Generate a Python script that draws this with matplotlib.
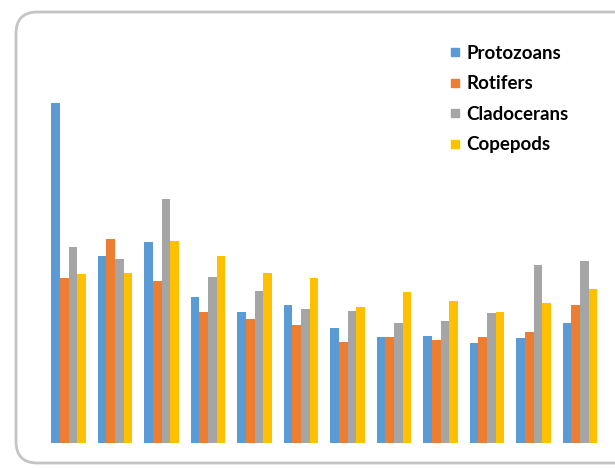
import numpy as np
import matplotlib.pyplot as plt
from matplotlib.patches import FancyBboxPatch
from matplotlib.lines import Line2D

# abundance per station (12 stations), four zooplankton groups
stations = np.arange(1, 13)
protozoans = [340, 187, 201, 146, 131, 138, 115, 106, 107, 100, 105, 120]
rotifers = [165, 204, 162, 131, 124, 118, 101, 106, 103, 106, 111, 138]
cladocerans = [196, 184, 244, 166, 152, 134, 132, 120, 122, 130, 178, 182]
copepods = [169, 170, 202, 187, 170, 165, 136, 151, 142, 131, 140, 154]

series = [("Protozoans", protozoans, "#5B9BD5"),
          ("Rotifers", rotifers, "#ED7D31"),
          ("Cladocerans", cladocerans, "#A5A5A5"),
          ("Copepods", copepods, "#FFC000")]

fig = plt.figure(figsize=(6.15, 4.68), dpi=100)

# rounded chart-area border
frame = FancyBboxPatch((16 / 615, 5 / 468), 620 / 615, 451 / 468,
                       boxstyle="round,pad=0,rounding_size=0.035",
                       transform=fig.transFigure, facecolor="white",
                       edgecolor="#c4c4c4", linewidth=2.0, zorder=0,
                       mutation_aspect=615 / 468)
fig.patches.append(frame)

ax = fig.add_axes([45.25 / 615, 25 / 468, 558 / 615, 360 / 468])
ax.set_zorder(2)
ax.patch.set_alpha(0)

x = np.arange(len(stations))
w = 0.183
for k, (name, vals, col) in enumerate(series):
    ax.bar(x + (k - 1.5) * w, vals, width=w, color=col, label=name)

ax.set_xlim(-0.5, 11.5)
ax.set_ylim(0, 360)
ax.set_xticks([])
ax.set_yticks([])
for s in ax.spines.values():
    s.set_visible(False)

handles = [Line2D([], [], linestyle="none", marker="s", markersize=6,
                  markerfacecolor=c, markeredgecolor=c, label=n)
           for n, _, c in series]
leg = fig.legend(handles=handles, loc="upper left",
                 bbox_to_anchor=(432 / 615, 1 - 28 / 468),
                 frameon=False, handlelength=0.6,
                 handletextpad=0.35, labelspacing=0.72,
                 prop={"family": "Lato", "weight": "bold", "size": 13.5})
leg.set_zorder(3)

fig.savefig("out.png", dpi=100)
